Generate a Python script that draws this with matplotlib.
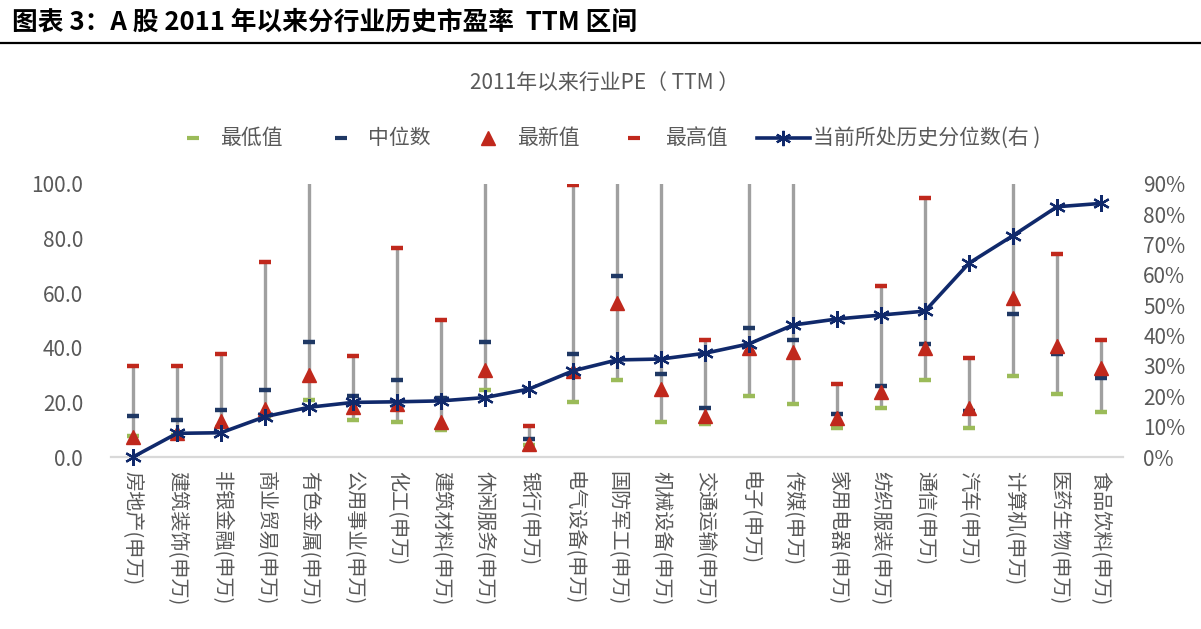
import matplotlib
matplotlib.use("Agg")
import matplotlib.pyplot as plt
from matplotlib.lines import Line2D
from matplotlib.ticker import FuncFormatter, PercentFormatter

plt.rcParams["font.family"] = ["Noto Sans CJK SC", "DejaVu Sans"]

industries = ["房地产(申万)", "建筑装饰(申万)", "非银金融(申万)", "商业贸易(申万)", "有色金属(申万)",
              "公用事业(申万)", "化工(申万)", "建筑材料(申万)", "休闲服务(申万)", "银行(申万)",
              "电气设备(申万)", "国防军工(申万)", "机械设备(申万)", "交通运输(申万)", "电子(申万)",
              "传媒(申万)", "家用电器(申万)", "纺织服装(申万)", "通信(申万)", "汽车(申万)",
              "计算机(申万)", "医药生物(申万)", "食品饮料(申万)"]
pe_min = [7.6, 8.0, 11.0, 14.3, 20.9, 13.7, 12.9, 10.0, 24.5, 4.3, 20.3, 28.3,
          12.9, 12.2, 22.5, 19.5, 10.7, 18.1, 28.3, 10.7, 29.8, 23.2, 16.6]
pe_median = [15.1, 13.7, 17.3, 24.7, 42.2, 22.5, 28.3, 21.5, 42.2, 6.5, 37.8, 66.4,
             30.5, 18.1, 47.4, 43.0, 15.9, 26.1, 41.5, 16.8, 52.5, 37.8, 29.0]
pe_latest = [7.4, 8.8, 13.3, 17.5, 30.0, 18.2, 19.3, 12.7, 31.9, 4.8, 31.6, 56.3,
             25.0, 15.0, 39.8, 38.6, 14.2, 23.9, 39.8, 18.1, 58.4, 40.8, 32.7]
pe_max = [33.4, 33.4, 37.8, 71.5, 130.0, 37.1, 76.7, 50.3, 140.0, 11.5, 99.6, 160.0,
          110.0, 43.0, 120.0, 130.0, 26.9, 62.8, 95.0, 36.4, 150.0, 74.5, 43.0]
pctile = [0.0, 0.078, 0.080, 0.133, 0.164, 0.180, 0.182, 0.185, 0.196, 0.224,
          0.284, 0.320, 0.323, 0.342, 0.373, 0.435, 0.455, 0.468, 0.481, 0.639,
          0.730, 0.825, 0.836]
legend_labels = ["最低值", "中位数", "最新值", "最高值", "当前所处历史分位数(右 )"]

GREEN = "#9BBB59"
NAVY = "#1F3864"
RED = "#C0281C"
LINE = "#10296B"
GRAY_TXT = "#595959"
W, H = 1201, 629

fig = plt.figure(figsize=(12.01, 6.29), dpi=100)

# header
fig.text(12 / W, 1 - 22 / H, "图表 3：A 股 2011 年以来分行业历史市盈率  TTM 区间",
         fontsize=18.5, fontweight="bold", va="center", ha="left", color="black")
fig.add_artist(Line2D([0, 1], [1 - 43 / H, 1 - 43 / H], color="black", lw=1.6))
fig.text(605 / W, 1 - 83 / H, "2011年以来行业PE（ TTM ）", fontsize=15,
         color=GRAY_TXT, ha="center", va="center")

ax = fig.add_axes([111 / W, 1 - 457 / H, 1012 / W, 273 / H])
x = list(range(len(industries)))

ax.vlines(x, pe_min, pe_max, color="#A0A0A0", lw=2.4, zorder=1)
ax.plot(x, pe_min, ls="none", marker="_", ms=9, mew=3.2, color=GREEN, zorder=2)
ax.plot(x, pe_median, ls="none", marker="_", ms=9, mew=3.2, color=NAVY, zorder=2)
ax.plot(x, pe_max, ls="none", marker="_", ms=9, mew=3.2, color=RED, zorder=2)
ax.plot(x, pe_latest, ls="none", marker="^", ms=10, color=RED, zorder=3)

ax.set_xlim(-0.5, len(industries) - 0.5)
ax.set_ylim(0, 100)
ax.set_yticks([0, 20, 40, 60, 80, 100])
ax.yaxis.set_major_formatter(FuncFormatter(lambda v, p: f"{v:.1f}"))
ax.set_xticks(x)
ax.set_xticklabels(industries, rotation=-90, fontsize=14.5, color=GRAY_TXT)
ax.tick_params(axis="y", length=0, pad=20, labelsize=15, labelcolor=GRAY_TXT)
ax.tick_params(axis="x", length=0, pad=10)
for s in ["top", "left", "right"]:
    ax.spines[s].set_visible(False)
ax.spines["bottom"].set_color("#D9D9D9")
ax.spines["bottom"].set_linewidth(1.6)

ax2 = ax.twinx()
ax2.plot(x, pctile, color=LINE, lw=2.6, marker=(6, 2, 0), ms=12, mew=1.6, zorder=5,
         clip_on=False)
ax2.set_ylim(0, 0.9)
ax2.set_yticks([i / 10 for i in range(10)])
ax2.yaxis.set_major_formatter(PercentFormatter(1.0, decimals=0))
ax2.tick_params(axis="y", length=0, pad=14.5, labelsize=15, labelcolor=GRAY_TXT)
for s in ["top", "left", "right", "bottom"]:
    ax2.spines[s].set_visible(False)

# legend, laid out by hand to match the original spacing
ly = 1 - 138 / H
tf = fig.transFigure
fig.add_artist(Line2D([193 / W], [ly], ls="none", marker="_", ms=9, mew=3, color=GREEN, transform=tf))
fig.add_artist(Line2D([341 / W], [ly], ls="none", marker="_", ms=9, mew=3, color=NAVY, transform=tf))
fig.add_artist(Line2D([488 / W], [ly], ls="none", marker="^", ms=10, color=RED, transform=tf))
fig.add_artist(Line2D([634 / W], [ly], ls="none", marker="_", ms=9, mew=3, color=RED, transform=tf))
fig.add_artist(Line2D([757 / W, 810 / W], [ly, ly], color=LINE, lw=2.6, transform=tf))
fig.add_artist(Line2D([783 / W], [ly], ls="none", marker=(6, 2, 0), ms=11, mew=1.6,
                      color=LINE, transform=tf))
for lx, lab in zip([220, 368, 517, 665, 813], legend_labels):
    fig.text(lx / W, ly, lab, fontsize=15, color=GRAY_TXT, ha="left", va="center")

fig.savefig("out.png", dpi=100)
